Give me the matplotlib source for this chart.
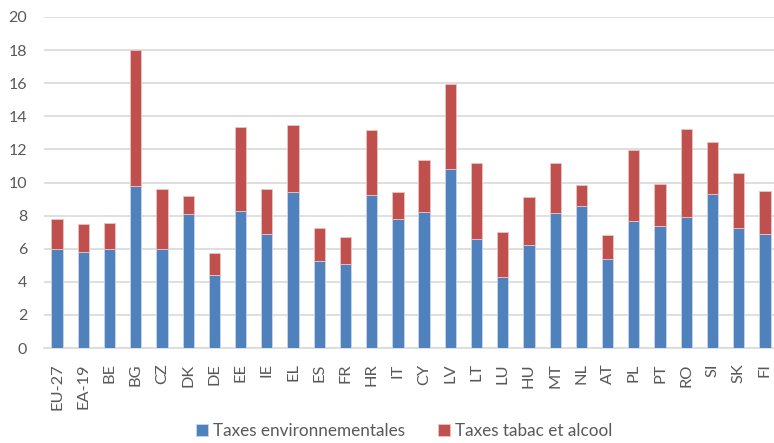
import numpy as np
import matplotlib.pyplot as plt

plt.rcParams['font.family'] = ['Lato', 'DejaVu Sans']

# Pays et agrégats
pays = ["EU-27", "EA-19", "BE", "BG", "CZ", "DK", "DE", "EE", "IE", "EL", "ES", "FR",
        "HR", "IT", "CY", "LV", "LT", "LU", "HU", "MT", "NL", "AT", "PL", "PT", "RO",
        "SI", "SK", "FI"]

# Taxes environnementales
taxes_env = [5.96, 5.83, 5.99, 9.81, 5.97, 8.11, 4.42, 8.27, 6.88, 9.44, 5.23, 5.09,
             9.26, 7.81, 8.23, 10.84, 6.56, 4.30, 6.22, 8.17, 8.60, 5.39, 7.69, 7.39,
             7.91, 9.32, 7.26, 6.88]

# Total (environnement + tabac et alcool)
total = [7.77, 7.49, 7.53, 17.98, 9.61, 9.18, 5.71, 13.34, 9.59, 13.50, 7.25, 6.68,
         13.16, 9.44, 11.36, 15.94, 11.20, 7.00, 9.10, 11.16, 9.85, 6.80, 11.99, 9.91,
         13.26, 12.45, 10.57, 9.50]

taxes_tabac = [t - e for t, e in zip(total, taxes_env)]

bleu = "#4F81BD"
rouge = "#C0504D"
gris = "#595959"

fig = plt.figure(figsize=(7.74, 4.43), dpi=100)
ax = fig.add_axes([44 / 774, 95 / 443, 734 / 774, 331 / 443])

x = np.arange(len(pays))
largeur = 0.43
ax.bar(x, taxes_env, largeur, color=bleu, edgecolor="#C9D6EA", linewidth=0.6,
       label="Taxes environnementales", zorder=3)
ax.bar(x, taxes_tabac, largeur, bottom=taxes_env, color=rouge, edgecolor="#EBC4C3",
       linewidth=0.6, label="Taxes tabac et alcool", zorder=3)

ax.set_xlim(-0.5, len(pays) - 0.5)
ax.set_ylim(0, 20)
ax.set_yticks(range(0, 21, 2))
ax.yaxis.grid(True, color="#D9D9D9", linewidth=1.2, zorder=0)

ax.set_xticks(x)
ax.set_xticklabels(pays, rotation=90, fontsize=11.8, color=gris)
ax.tick_params(axis="y", labelsize=11.5, labelcolor=gris, length=0, pad=12)
ax.tick_params(axis="x", length=0, pad=11)

for cote in ["top", "right", "left"]:
    ax.spines[cote].set_visible(False)
ax.spines["bottom"].set_color("#D9D9D9")
ax.spines["bottom"].set_linewidth(1.2)

fig.legend(loc="lower center", bbox_to_anchor=(0.522, -0.025), ncol=2, frameon=False,
           fontsize=12.3, handlelength=0.7, handleheight=0.7, handletextpad=0.3,
           columnspacing=1.9, labelcolor=gris)

fig.savefig("out.png", dpi=100)
